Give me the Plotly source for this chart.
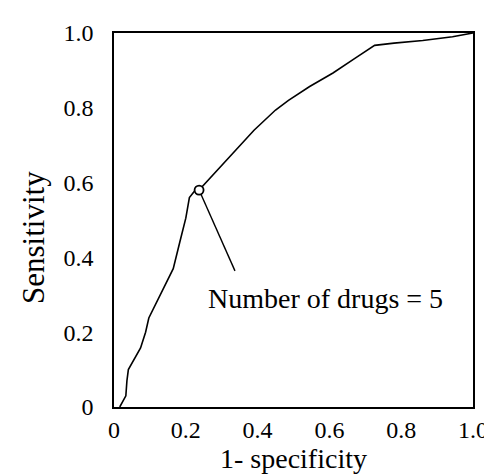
import plotly.graph_objects as go

# ROC curve
fpr = [0.016, 0.033, 0.036, 0.040, 0.074, 0.088, 0.097, 0.128, 0.165, 0.183, 0.200, 0.210,
       0.224, 0.237, 0.320, 0.390, 0.450, 0.486, 0.545, 0.610, 0.672, 0.726, 0.780,
       0.860, 0.943, 0.980, 1.000]
tpr = [0.000, 0.030, 0.070, 0.100, 0.158, 0.200, 0.238, 0.300, 0.370, 0.440, 0.505, 0.560,
       0.577, 0.580, 0.666, 0.740, 0.794, 0.820, 0.857, 0.893, 0.933, 0.967, 0.973,
       0.980, 0.990, 0.997, 1.000]

# highlighted cut-off point
point_x = [0.237]
point_y = [0.580]
point_label = "Number of drugs = 5"
leader_end = (0.337, 0.364)
label_pos = (0.59, 0.289)

tick_vals = [0, 0.2, 0.4, 0.6, 0.8, 1.0]
tick_text = ["0", "0.2", "0.4", "0.6", "0.8", "1.0"]

x_title = "1- specificity"
y_title = "Sensitivity"

FONT = "Liberation Serif, Times New Roman, serif"

fig = go.Figure()
fig.add_trace(go.Scatter(x=fpr, y=tpr, mode="lines",
                         line=dict(color="black", width=1.6), showlegend=False))
fig.add_trace(go.Scatter(x=[point_x[0], leader_end[0]], y=[point_y[0], leader_end[1]],
                         mode="lines", line=dict(color="black", width=1.4), showlegend=False))
fig.add_trace(go.Scatter(x=point_x, y=point_y, mode="markers",
                         marker=dict(symbol="circle", size=9, color="white",
                                     line=dict(width=1.8, color="black")),
                         showlegend=False))
fig.add_annotation(x=label_pos[0], y=label_pos[1], text=point_label, showarrow=False,
                   font=dict(family=FONT, size=28, color="black"))

# axis titles
fig.add_annotation(xref="paper", yref="paper", x=0.5, y=0, yanchor="bottom", yshift=-69,
                   text=x_title, showarrow=False,
                   font=dict(family=FONT, size=28, color="black"))
fig.add_annotation(xref="paper", yref="paper", x=0, y=0.452, xanchor="center", xshift=-80,
                   text=y_title, textangle=-90, showarrow=False,
                   font=dict(family=FONT, size=31, color="black"))

axis_common = dict(range=[0, 1], showgrid=False, zeroline=False, showline=True,
                   linecolor="black", linewidth=1.5, mirror=True, ticks="",
                   tickvals=tick_vals, ticktext=tick_text,
                   tickfont=dict(family=FONT, size=24, color="black"))

fig.update_xaxes(**axis_common, ticklabelstandoff=0)
fig.update_yaxes(**axis_common, ticklabelstandoff=14)

fig.update_layout(width=492, height=476, margin=dict(l=106, r=18, t=25, b=77),
                  plot_bgcolor="white", paper_bgcolor="white")

fig.write_html("out.html")
